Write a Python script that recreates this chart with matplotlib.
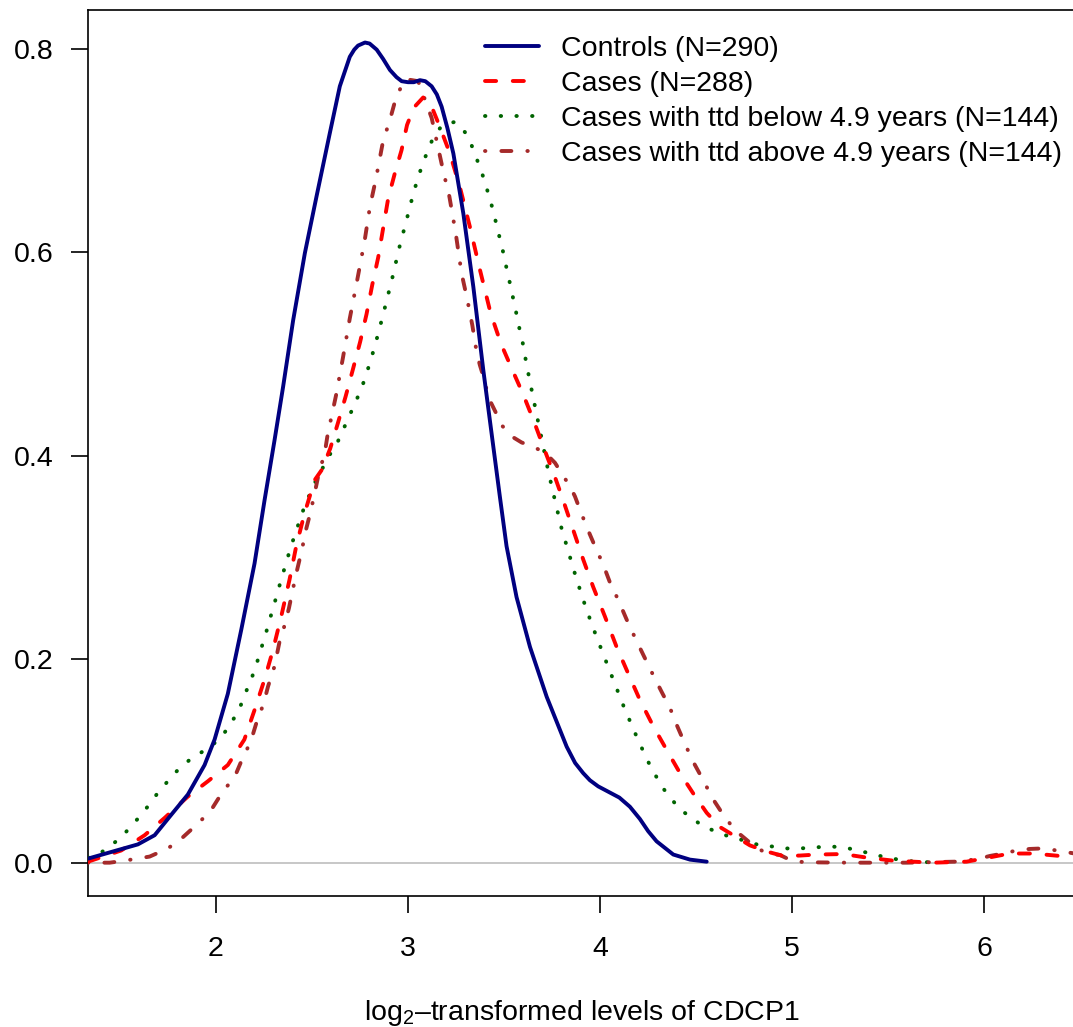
import matplotlib
matplotlib.use('Agg')
import matplotlib.pyplot as plt

# density curves (x = log2 level, y = density)
controls_x = [1.334, 1.464, 1.594, 1.681, 1.767, 1.854, 1.941, 1.993, 2.062, 2.132,
              2.201, 2.253, 2.305, 2.350, 2.402, 2.463, 2.524, 2.593, 2.645, 2.697,
              2.720, 2.740, 2.776, 2.800, 2.837, 2.870, 2.906, 2.940, 2.967, 3.000,
              3.030, 3.062, 3.090, 3.123, 3.150, 3.175, 3.205, 3.236, 3.288, 3.340,
              3.392, 3.444, 3.478, 3.513, 3.565, 3.635, 3.722, 3.826, 3.870, 3.912,
              3.947, 3.990, 4.050, 4.100, 4.155, 4.207, 4.250, 4.294, 4.381, 4.468,
              4.555]
controls_y = [0.004, 0.011, 0.018, 0.027, 0.047, 0.067, 0.096, 0.121, 0.166, 0.229,
              0.294, 0.356, 0.415, 0.468, 0.533, 0.599, 0.655, 0.717, 0.763, 0.792,
              0.799, 0.803, 0.806, 0.805, 0.799, 0.790, 0.779, 0.772, 0.768, 0.767,
              0.767, 0.769, 0.768, 0.763, 0.755, 0.743, 0.722, 0.697, 0.638, 0.566,
              0.484, 0.409, 0.360, 0.311, 0.261, 0.212, 0.163, 0.114, 0.098, 0.088,
              0.081, 0.075, 0.069, 0.064, 0.055, 0.043, 0.031, 0.021, 0.008, 0.003,
              0.001]

cases_x = [1.334, 1.507, 1.629, 1.733, 1.854, 1.958, 2.062, 2.148, 2.201, 2.253,
           2.297, 2.340, 2.383, 2.418, 2.461, 2.514, 2.551, 2.595, 2.635, 2.675,
           2.712, 2.751, 2.784, 2.814, 2.845, 2.871, 2.897, 2.932, 2.966, 2.995,
           3.030, 3.079, 3.123, 3.166, 3.218, 3.270, 3.322, 3.374, 3.430, 3.484,
           3.539, 3.600, 3.657, 3.704, 3.765, 3.808, 3.860, 3.912, 3.964, 4.025,
           4.086, 4.146, 4.207, 4.277, 4.346, 4.416, 4.485, 4.555, 4.624, 4.676,
           4.780, 4.867, 4.953, 5.040, 5.127, 5.266, 5.387, 5.526, 5.734, 5.908,
           5.994, 6.133, 6.255, 6.428, 6.470]
cases_y = [0.001, 0.012, 0.027, 0.044, 0.065, 0.080, 0.096, 0.121, 0.150, 0.180,
           0.209, 0.242, 0.278, 0.311, 0.343, 0.376, 0.386, 0.407, 0.432, 0.458,
           0.484, 0.512, 0.539, 0.568, 0.595, 0.624, 0.653, 0.678, 0.700, 0.725,
           0.742, 0.752, 0.743, 0.723, 0.697, 0.664, 0.625, 0.583, 0.540, 0.510,
           0.486, 0.460, 0.433, 0.409, 0.379, 0.356, 0.327, 0.298, 0.271, 0.242,
           0.212, 0.186, 0.160, 0.134, 0.111, 0.088, 0.068, 0.049, 0.035, 0.029,
           0.017, 0.011, 0.0066, 0.007, 0.008, 0.0085, 0.005, 0.002, 0.0, 0.001,
           0.004, 0.009, 0.009, 0.006, 0.0055]

early_x = [1.334, 1.395, 1.455, 1.512, 1.564, 1.616, 1.660, 1.703, 1.754, 1.806,
           1.863, 1.929, 1.990, 2.042, 2.085, 2.124, 2.150, 2.179, 2.205, 2.227,
           2.264, 2.285, 2.305, 2.326, 2.347, 2.368, 2.389, 2.413, 2.437, 2.463,
           2.493, 2.524, 2.559, 2.596, 2.635, 2.697, 2.758, 2.805, 2.845, 2.883,
           2.920, 2.954, 2.993, 3.031, 3.076, 3.132, 3.179, 3.244, 3.296, 3.331,
           3.357, 3.383, 3.406, 3.430, 3.449, 3.467, 3.485, 3.503, 3.517, 3.535,
           3.550, 3.566, 3.581, 3.597, 3.611, 3.624, 3.640, 3.670, 3.701, 3.731,
           3.765, 3.800, 3.822, 3.864, 3.909, 3.959, 4.014, 4.068, 4.124, 4.183,
           4.245, 4.320, 4.412, 4.534, 4.598, 4.667, 4.745, 4.815, 4.893, 4.966,
           5.040, 5.119, 5.193, 5.270, 5.344, 5.417, 5.492, 5.565, 5.640, 5.718]
early_y = [0.005, 0.009, 0.017, 0.026, 0.037, 0.048, 0.059, 0.070, 0.081, 0.092,
           0.101, 0.109, 0.117, 0.127, 0.139, 0.152, 0.165, 0.178, 0.191, 0.205,
           0.228, 0.242, 0.255, 0.269, 0.283, 0.296, 0.310, 0.323, 0.337, 0.351,
           0.364, 0.377, 0.389, 0.402, 0.414, 0.440, 0.466, 0.493, 0.520, 0.548,
           0.576, 0.604, 0.632, 0.660, 0.687, 0.713, 0.725, 0.728, 0.718, 0.705,
           0.692, 0.679, 0.665, 0.650, 0.636, 0.622, 0.608, 0.594, 0.580, 0.566,
           0.552, 0.538, 0.524, 0.511, 0.496, 0.483, 0.468, 0.440, 0.412, 0.384,
           0.356, 0.328, 0.314, 0.287, 0.260, 0.233, 0.206, 0.180, 0.153, 0.127,
           0.101, 0.075, 0.053, 0.036, 0.031, 0.026, 0.022, 0.018, 0.016, 0.014,
           0.014, 0.015, 0.016, 0.015, 0.012, 0.0085, 0.005, 0.0027, 0.001, 0.0004]

late_x = [1.334, 1.447, 1.525, 1.655, 1.750, 1.828, 1.915, 1.976, 2.036, 2.097,
          2.135, 2.181, 2.215, 2.248, 2.271, 2.305, 2.331, 2.354, 2.380, 2.401,
          2.423, 2.447, 2.470, 2.493, 2.514, 2.536, 2.566, 2.581, 2.625, 2.662,
          2.697, 2.736, 2.774, 2.802, 2.833, 2.871, 2.903, 2.932, 2.967, 2.989,
          3.053, 3.088, 3.123, 3.161, 3.184, 3.215, 3.248, 3.279, 3.308, 3.335,
          3.357, 3.374, 3.392, 3.409, 3.432, 3.458, 3.492, 3.539, 3.591, 3.661,
          3.718, 3.765, 3.805, 3.843, 3.869, 3.895, 3.930, 3.973, 4.016, 4.052,
          4.095, 4.138, 4.182, 4.228, 4.277, 4.320, 4.364, 4.402, 4.441, 4.488,
          4.537, 4.586, 4.641, 4.702, 4.797, 4.867, 4.936, 4.997, 5.066, 5.300,
          5.600, 5.850, 5.896, 5.960, 6.029, 6.098, 6.168, 6.237, 6.303, 6.378,
          6.470]
late_y = [0.000, 0.000, 0.002, 0.006, 0.014, 0.025, 0.040, 0.052, 0.070, 0.084,
          0.101, 0.119, 0.140, 0.156, 0.173, 0.193, 0.217, 0.231, 0.250, 0.269,
          0.288, 0.307, 0.328, 0.345, 0.363, 0.383, 0.402, 0.420, 0.459, 0.497,
          0.535, 0.573, 0.611, 0.645, 0.672, 0.710, 0.728, 0.748, 0.764, 0.770,
          0.768, 0.750, 0.732, 0.699, 0.679, 0.655, 0.619, 0.579, 0.554, 0.528,
          0.502, 0.489, 0.478, 0.465, 0.452, 0.442, 0.429, 0.419, 0.413, 0.408,
          0.402, 0.393, 0.381, 0.370, 0.360, 0.347, 0.330, 0.311, 0.293, 0.275,
          0.258, 0.239, 0.221, 0.203, 0.184, 0.168, 0.152, 0.134, 0.117, 0.098,
          0.081, 0.063, 0.047, 0.032, 0.017, 0.009, 0.0076, 0.002, 0.0004, 0.0,
          0.0, 0.001, 0.002, 0.0033, 0.0066, 0.009, 0.012, 0.0135, 0.014, 0.012,
          0.009]

labels = ['Controls (N=290)', 'Cases (N=288)',
          'Cases with ttd below 4.9 years (N=144)',
          'Cases with ttd above 4.9 years (N=144)']
x_ticks = [2, 3, 4, 5, 6]
y_ticks = [0.0, 0.2, 0.4, 0.6, 0.8]
y_ticklabels = ['0.0', '0.2', '0.4', '0.6', '0.8']


def main():
	plt.rcParams['font.family'] = ['Liberation Sans', 'DejaVu Sans']
	plt.rcParams['mathtext.fontset'] = 'custom'
	plt.rcParams['mathtext.rm'] = 'Liberation Sans'
	plt.rcParams['lines.scale_dashes'] = False

	fig = plt.figure(figsize=(10.73, 10.27), dpi=100)
	ax = fig.add_axes([0.082, 0.1276, 0.92, 0.8627])

	ax.axhline(0, color='#bebebe', lw=1.2, zorder=1)

	ax.plot(controls_x, controls_y, color='#000080', lw=2.8,
	        solid_capstyle='round', solid_joinstyle='round', label=labels[0], zorder=5)
	ax.plot(cases_x, cases_y, color='#ff0000', lw=2.8,
	        linestyle=(0, (8, 12)), dash_capstyle='round', dash_joinstyle='round',
	        label=labels[1], zorder=4)
	ax.plot(early_x, early_y, color='#006400', lw=2.8,
	        linestyle=(0, (0.3, 11)), dash_capstyle='round', label=labels[2], zorder=3)
	ax.plot(late_x, late_y, color='#a52a2a', lw=2.8,
	        linestyle=(0, (0.3, 11.5, 7.2, 11.5)), dash_capstyle='round',
	        dash_joinstyle='round', label=labels[3], zorder=3)

	ax.set_xlim(1.334, 6.473)
	ax.set_ylim(-0.0327, 0.838)
	ax.set_xticks(x_ticks)
	ax.set_yticks(y_ticks)
	ax.set_yticklabels(y_ticklabels)
	ax.tick_params(direction='out', length=12.5, width=1.2, labelsize=20.5, color='black')
	ax.tick_params(axis='x', pad=16)
	ax.tick_params(axis='y', pad=12.5)
	for s in ax.spines.values():
		s.set_linewidth(1.2)

	ax.set_xlabel(r'log$_\mathregular{2}$–transformed levels of CDCP1', fontsize=20.5, labelpad=26)

	ax.legend(loc='upper left', bbox_to_anchor=(0.402, 0.971), frameon=False,
	          fontsize=20.5, borderaxespad=0, borderpad=0, handlelength=1.9,
	          handletextpad=0.78, labelspacing=0.32)

	fig.savefig('out.png', dpi=100)


if __name__ == '__main__':
	main()
